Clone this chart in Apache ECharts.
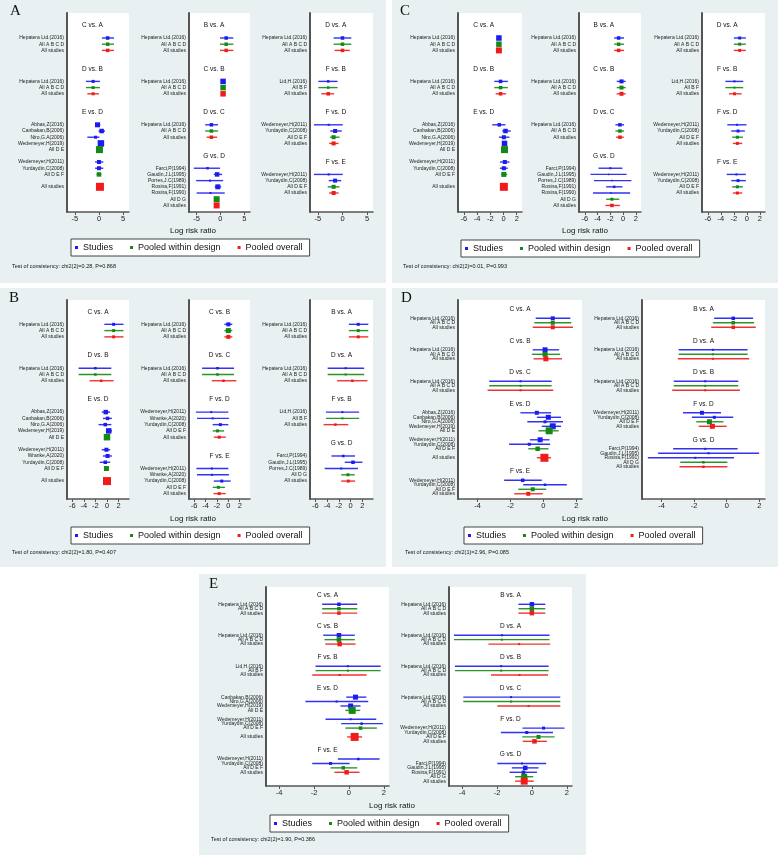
<!DOCTYPE html>
<html>
<head>
<meta charset="utf-8">
<script src="https://cdn.jsdelivr.net/npm/echarts@6/dist/echarts.min.js"></script>
<style>html,body{margin:0;padding:0;background:#fff}#main{width:778px;height:855px}</style>
</head>
<body>
<div id="main"></div>
<script>
// row = [kind, label, estimate, lower, upper, weight]; kind T = comparison title, S = study,
// D = pooled within design, O = pooled overall; null = empty row
var A1 = [
  ['T','C vs. A'], null,
  ['S','Hepatera Ltd.(2016)',1.8,0.6,3.1,3.5],
  ['D','All A B C D',1.8,0.6,3.1,3.5],
  ['O','All studies',1.8,0.6,3.1,3.5],
  null, null,
  ['T','D vs. B'], null,
  ['S','Hepatera Ltd.(2016)',-1.2,-2.7,0.2,3],
  ['D','All A B C D',-1.2,-2.7,0.2,3],
  ['O','All studies',-1.2,-2.4,0.0,3],
  null, null,
  ['T','E vs. D'], null,
  ['S','Abbas,Z(2016)',-0.3,-0.8,0.3,5],
  ['S','Canbakan,B(2006)',0.55,-0.1,1.25,4.5],
  ['S','Niro,G.A(2006)',-0.7,-2.4,0.1,3],
  ['S','Wedemeyer,H(2019)',0.4,0.0,0.8,6.5],
  ['D','All D E',0.1,-0.2,0.4,7],
  null,
  ['S','Wedemeyer,H(2011)',0,-0.8,0.9,4],
  ['S','Yurdaydin,C(2008)',0,-0.8,0.9,4],
  ['D','All D E F',0,-0.5,0.5,4.5],
  null,
  ['O','All studies',0.2,-0.1,0.5,8]
];
var A2 = [
  ['T','B vs. A'], null,
  ['S','Hepatera Ltd.(2016)',1.2,-0.1,2.7,3.5],
  ['D','All A B C D',1.2,-0.1,2.7,3.5],
  ['O','All studies',1.2,-0.1,2.7,3.5],
  null, null,
  ['T','C vs. B'], null,
  ['S','Hepatera Ltd.(2016)',0.55,0.3,0.8,5.5],
  ['D','All A B C D',0.55,0.3,0.8,5.5],
  ['O','All studies',0.55,0.3,0.8,5.5],
  null, null,
  ['T','D vs. C'], null,
  ['S','Hepatera Ltd.(2016)',-1.9,-3.2,-0.5,3.5],
  ['D','All A B C D',-1.9,-3.2,-0.5,3.5],
  ['O','All studies',-1.9,-2.9,-0.7,3.5],
  null, null,
  ['T','G vs. D'], null,
  ['S','Farci,P(1994)',-2.7,-5.6,-0.1,2.5],
  ['S','Gaudin,J.L(1995)',-0.7,-1.4,0.35,4.5],
  ['S','Porres,J.C(1989)',-2.2,-5.1,0.55,2],
  ['S','Rosina,F(1991)',-0.55,-1.2,0.15,5],
  ['S','Rosina,F(1990)',-2.1,-5.0,0.9,2],
  ['D','All D G',-0.8,-1.2,-0.4,6],
  ['O','All studies',-0.8,-1.2,-0.4,6]
];
var A3 = [
  ['T','D vs. A'], null,
  ['S','Hepatera Ltd.(2016)',0,-1.8,1.8,3.5],
  ['D','All A B C D',0,-1.8,1.8,3.5],
  ['O','All studies',0,-1.6,1.5,3.5],
  null, null,
  ['T','F vs. B'], null,
  ['S','Lid,H.(2016)',-2.9,-4.9,-1.0,2.5],
  ['D','All B F',-2.9,-4.9,-1.0,2.5],
  ['O','All studies',-2.9,-4.3,-1.7,3.5],
  null, null,
  ['T','F vs. D'], null,
  ['S','Wedemeyer,H(2011)',-2.8,-5.8,0.05,2],
  ['S','Yurdaydin,C(2008)',-1.5,-2.5,-0.15,4],
  ['D','All D E F',-1.8,-2.5,-0.6,4],
  ['O','All studies',-1.8,-2.7,-0.8,4],
  null, null,
  ['T','F vs. E'], null,
  ['S','Wedemeyer,H(2011)',-2.8,-5.8,0.05,2],
  ['S','Yurdaydin,C(2008)',-1.5,-2.8,-0.25,4],
  ['D','All D E F',-1.8,-3.0,-0.6,4],
  ['O','All studies',-1.8,-2.7,-0.8,4]
];

var B1 = [
  ['T','C vs. A'], null,
  ['S','Hepatera Ltd.(2016)',1.15,-0.45,2.85,3],
  ['D','All A B C D',1.15,-0.45,2.85,3],
  ['O','All studies',1.15,-0.45,2.85,3],
  null, null,
  ['T','D vs. B'], null,
  ['S','Hepatera Ltd.(2016)',-2.0,-4.9,0.75,2.5],
  ['D','All A B C D',-2.0,-4.9,0.75,2.5],
  ['O','All studies',-1.0,-3.0,1.15,2.5],
  null, null,
  ['T','E vs. D'], null,
  ['S','Abbas,Z(2016)',-0.2,-0.9,0.55,4.5],
  ['S','Canbakan,B(2006)',0.1,-0.7,0.85,3.5],
  ['S','Niro,G.A(2006)',-0.3,-1.45,0.75,3.5],
  ['S','Wedemeyer,H(2019)',0.3,-0.2,0.85,5.5],
  ['D','All D E',0,-0.3,0.3,6.5],
  null,
  ['S','Wedemeyer,H(2011)',-0.1,-0.9,0.55,4],
  ['S','Wranke,A(2020)',0.1,-0.7,0.85,4],
  ['S','Yurdaydin,C(2008)',-0.3,-1.25,0.55,3.5],
  ['D','All D E F',-0.1,-0.5,0.3,5],
  null,
  ['O','All studies',0,-0.3,0.3,8]
];
var B2 = [
  ['T','C vs. B'], null,
  ['S','Hepatera Ltd.(2016)',0,-0.7,0.7,4],
  ['D','All A B C D',0,-0.7,0.7,5],
  ['O','All studies',0,-0.7,0.7,4],
  null, null,
  ['T','D vs. C'], null,
  ['S','Hepatera Ltd.(2016)',-1.9,-4.6,1.0,2.5],
  ['D','All A B C D',-1.9,-4.6,1.0,2.5],
  ['O','All studies',-0.85,-2.9,1.4,2.5],
  null, null,
  ['T','F vs. D'], null,
  ['S','Wedemeyer,H(2011)',-3.0,-5.7,0,2],
  ['S','Wranke,A(2020)',-2.75,-5.5,0.1,2],
  ['S','Yurdaydin,C(2008)',-1.4,-2.75,0,3],
  ['D','All D E F',-1.9,-2.75,-0.75,3],
  ['O','All studies',-1.6,-2.55,-0.45,3],
  null, null,
  ['T','F vs. E'], null,
  ['S','Wedemeyer,H(2011)',-2.9,-5.6,0,2],
  ['S','Wranke,A(2020)',-2.85,-5.5,0.1,2],
  ['S','Yurdaydin,C(2008)',-1.15,-2.55,0.4,3],
  ['D','All D E F',-1.75,-2.75,-0.6,3],
  ['O','All studies',-1.6,-2.6,-0.45,3]
];
var B3 = [
  ['T','B vs. A'], null,
  ['S','Hepatera Ltd.(2016)',1.3,-0.3,3.0,3],
  ['D','All A B C D',1.3,-0.3,3.0,3],
  ['O','All studies',1.3,-0.3,3.0,3],
  null, null,
  ['T','D vs. A'], null,
  ['S','Hepatera Ltd.(2016)',-0.85,-3.9,2.3,2],
  ['D','All A B C D',-0.85,-3.9,2.3,2],
  ['O','All studies',0.3,-2.3,2.85,2.5],
  null, null,
  ['T','F vs. B'], null,
  ['S','Lid,H.(2016)',-1.4,-4.2,1.45,2],
  ['D','All B F',-1.4,-4.2,1.45,2],
  ['O','All studies',-2.6,-4.6,-0.4,2.5],
  null, null,
  ['T','G vs. D'], null,
  ['S','Farci,P(1994)',-1.25,-3.25,0.75,2.5],
  ['S','Gaudin,J.L(1995)',0.4,-1.0,2.0,3.5],
  ['S','Porres,J.C(1989)',-1.6,-4.4,1.25,2],
  ['D','All D G',-0.45,-1.6,0.7,3],
  ['O','All studies',-0.4,-1.6,0.75,3]
];

var C1 = [
  ['T','C vs. A'], null,
  ['S','Hepatera Ltd.(2016)',-0.7,-0.9,-0.5,5.5],
  ['D','All A B C D',-0.7,-0.9,-0.5,5.5],
  ['O','All studies',-0.7,-0.9,-0.5,6],
  null, null,
  ['T','D vs. B'], null,
  ['S','Hepatera Ltd.(2016)',-0.45,-1.4,0.65,3.5],
  ['D','All A B C D',-0.45,-1.4,0.65,3.5],
  ['O','All studies',-0.45,-1.2,0.4,3.5],
  null, null,
  ['T','E vs. D'], null,
  ['S','Abbas,Z(2016)',-0.65,-1.7,0.3,3.5],
  ['S','Canbakan,B(2006)',0.3,-0.2,1.1,4.5],
  ['S','Niro,G.A(2006)',0.05,-0.7,0.9,4],
  ['S','Wedemeyer,H(2019)',0.15,-0.15,0.45,5.5],
  ['D','All D E',0.15,-0.1,0.4,7],
  null,
  ['S','Wedemeyer,H(2011)',0.2,-0.55,0.9,4],
  ['S','Yurdaydin,C(2008)',0.05,-0.55,0.65,4],
  ['D','All D E F',0.05,-0.35,0.55,5],
  null,
  ['O','All studies',0.05,-0.2,0.3,8]
];
var C2 = [
  ['T','B vs. A'], null,
  ['S','Hepatera Ltd.(2016)',-0.7,-1.4,0.15,3.5],
  ['D','All A B C D',-0.7,-1.4,0.15,3.5],
  ['O','All studies',-0.7,-1.4,0.15,3.5],
  null, null,
  ['T','C vs. B'], null,
  ['S','Hepatera Ltd.(2016)',-0.25,-1.0,0.4,4],
  ['D','All A B C D',-0.25,-1.0,0.4,4],
  ['O','All studies',-0.25,-1.0,0.4,4],
  null, null,
  ['T','D vs. C'], null,
  ['S','Hepatera Ltd.(2016)',-0.5,-1.2,0.15,3.5],
  ['D','All A B C D',-0.5,-1.2,0.15,3.5],
  ['O','All studies',-0.5,-1.1,0.1,3.5],
  null, null,
  ['T','G vs. D'], null,
  ['S','Farci,P(1994)',-2.0,-3.85,-0.1,2],
  ['S','Gaudin,J.L(1995)',-2.25,-5.1,0.55,1.5],
  ['S','Porres,J.C(1989)',-1.75,-4.55,1.3,1.5],
  ['S','Rosina,F(1991)',-1.4,-2.65,-0.1,2.5],
  ['S','Rosina,F(1990)',-1.9,-4.7,1.1,1.5],
  ['D','All D G',-1.75,-2.65,-0.6,3],
  ['O','All studies',-1.75,-2.75,-0.5,3.5]
];
var C3 = [
  ['T','D vs. A'], null,
  ['S','Hepatera Ltd.(2016)',-1.1,-2.0,-0.15,3],
  ['D','All A B C D',-1.1,-2.0,-0.15,3],
  ['O','All studies',-1.1,-2.0,-0.15,3],
  null, null,
  ['T','F vs. B'], null,
  ['S','Lid,H.(2016)',-1.9,-3.3,-0.55,2],
  ['D','All B F',-1.9,-3.3,-0.55,2],
  ['O','All studies',-1.9,-2.75,-0.8,3],
  null, null,
  ['T','F vs. D'], null,
  ['S','Wedemeyer,H(2011)',-1.5,-3.0,-0.05,2],
  ['S','Yurdaydin,C(2008)',-1.35,-2.4,-0.3,3],
  ['D','All D E F',-1.45,-2.25,-0.6,3],
  ['O','All studies',-1.45,-2.15,-0.7,3],
  null, null,
  ['T','F vs. E'], null,
  ['S','Wedemeyer,H(2011)',-1.6,-3.1,-0.15,2],
  ['S','Yurdaydin,C(2008)',-1.35,-2.4,-0.15,3],
  ['D','All D E F',-1.45,-2.25,-0.6,3],
  ['O','All studies',-1.45,-2.15,-0.7,3]
];

var D1 = [
  ['T','C vs. A'], null,
  ['S','Hepatera Ltd.(2016)',0.57,-0.47,1.64,4],
  ['D','All A B C D',0.57,-0.55,1.7,4],
  ['O','All studies',0.57,-0.65,1.8,4],
  null, null,
  ['T','C vs. B'], null,
  ['S','Hepatera Ltd.(2016)',0.1,-0.65,0.96,5],
  ['D','All A B C D',0.1,-0.7,1.02,5],
  ['O','All studies',0.15,-0.6,1.13,5],
  null, null,
  ['T','D vs. C'], null,
  ['S','Hepatera Ltd.(2016)',-1.39,-3.3,0.5,2],
  ['D','All A B C D',-1.39,-3.3,0.5,2],
  ['O','All studies',-1.39,-3.4,0.6,2],
  null, null,
  ['T','E vs. D'], null,
  ['S','Abbas,Z(2016)',-0.4,-1.4,0.47,4],
  ['S','Canbakan,B(2006)',0.3,-0.4,1.07,5],
  ['S','Niro,G.A(2006)',0.1,-0.98,1.19,3],
  ['S','Wedemeyer,H(2019)',0.57,-0.1,1.07,6],
  ['D','All D E',0.35,-0.3,0.93,7],
  null,
  ['S','Wedemeyer,H(2011)',-0.2,-0.82,0.37,5],
  ['S','Yurdaydin,C(2008)',-0.86,-2.09,0.41,3],
  ['D','All D E F',-0.35,-0.92,0.31,4.5],
  null,
  ['O','All studies',0.06,-0.4,0.47,8],
  null, null,
  ['T','F vs. E'], null,
  ['S','Wedemeyer,H(2011)',-1.26,-2.39,-0.1,3.5],
  ['S','Yurdaydin,C(2008)',0.1,-1.23,1.43,2.5],
  ['D','All D E F',-0.65,-1.53,0.17,4],
  ['O','All studies',-0.92,-1.78,-0.04,4]
];
var D2 = [
  ['T','B vs. A'], null,
  ['S','Hepatera Ltd.(2016)',0.4,-0.77,1.62,3.5],
  ['D','All A B C D',0.4,-0.85,1.68,3.5],
  ['O','All studies',0.4,-0.95,1.78,3.5],
  null, null,
  ['T','D vs. A'], null,
  ['S','Hepatera Ltd.(2016)',-0.85,-2.95,1.28,2],
  ['D','All A B C D',-0.85,-2.95,1.28,2],
  ['O','All studies',-0.85,-3.0,1.38,2],
  null, null,
  ['T','D vs. B'], null,
  ['S','Hepatera Ltd.(2016)',-1.32,-3.25,0.71,2],
  ['D','All A B C D',-1.32,-3.25,0.71,2],
  ['O','All studies',-1.32,-3.35,0.81,2],
  null, null,
  ['T','F vs. D'], null,
  ['S','Wedemeyer,H(2011)',-1.52,-2.68,-0.35,4],
  ['S','Yurdaydin,C(2008)',-0.76,-2.14,0.4,3],
  ['D','All D E F',-1.06,-1.87,-0.2,5],
  ['O','All studies',-0.88,-1.72,0,5],
  null, null,
  ['T','G vs. D'], null,
  ['S','Farci,P(1994)',-1.32,-3.29,0.67,2],
  ['S','Gaudin,J.L(1995)',-1.12,-4.21,1.99,2],
  ['S','Rosina,F(1991)',-1.93,-4.84,0.45,2],
  ['D','All D G',-1.43,-2.85,0.04,2.5],
  ['O','All studies',-1.43,-2.9,0.04,2.5]
];

var E1 = [
  ['T','C vs. A'], null,
  ['S','Hepatera Ltd.(2016)',-0.57,-1.53,0.48,3.5],
  ['D','All A B C D',-0.57,-1.53,0.48,3.5],
  ['O','All studies',-0.57,-1.53,0.48,3.5],
  null, null,
  ['T','C vs. B'], null,
  ['S','Hepatera Ltd.(2016)',-0.57,-1.47,0.34,4.5],
  ['D','All A B C D',-0.57,-1.4,0.34,4.5],
  ['O','All studies',-0.53,-1.35,0.38,4.5],
  null, null,
  ['T','F vs. B'], null,
  ['S','Lid,H.(2016)',-0.06,-1.91,1.82,2],
  ['D','All B F',-0.06,-1.91,1.82,2],
  ['O','All studies',-0.53,-2.1,1.02,2],
  null, null,
  ['T','E vs. D'], null,
  ['S','Canbakan,B(2006)',0.38,-0.15,1.0,5],
  ['S','Niro,G.A(2006)',-0.7,-2.49,1.11,2],
  ['S','Wedemeyer,H(2019)',0.1,-0.48,0.67,5],
  ['D','All D E',0.19,-0.2,0.65,7],
  null,
  ['S','Wedemeyer,H(2011)',0.1,-1.34,1.57,2],
  ['S','Yurdaydin,C(2008)',0.73,-0.44,1.95,2.5],
  ['D','All D E F',0.67,-0.2,1.6,3.5],
  null,
  ['O','All studies',0.33,-0.1,0.76,8],
  null, null,
  ['T','F vs. E'], null,
  ['S','Wedemeyer,H(2011)',0.54,-0.63,1.76,2.5],
  ['S','Yurdaydin,C(2008)',-1.05,-2.1,0.04,3],
  ['D','All D E F',-0.32,-1.05,0.48,3.5],
  ['O','All studies',-0.13,-0.83,0.61,4.5]
];
var E2 = [
  ['T','B vs. A'], null,
  ['S','Hepatera Ltd.(2016)',0,-0.77,0.77,4.5],
  ['D','All A B C D',0,-0.77,0.77,4.5],
  ['O','All studies',0,-0.77,0.77,4.5],
  null, null,
  ['T','D vs. A'], null,
  ['S','Hepatera Ltd.(2016)',-1.72,-4.47,1.01,2],
  ['D','All A B C D',-1.72,-4.47,1.01,2],
  ['O','All studies',-0.73,-2.49,1.05,2],
  null, null,
  ['T','D vs. B'], null,
  ['S','Hepatera Ltd.(2016)',-1.76,-4.41,0.96,2],
  ['D','All A B C D',-1.76,-4.41,0.96,2],
  ['O','All studies',-0.71,-2.34,0.92,2],
  null, null,
  ['T','D vs. C'], null,
  ['S','Hepatera Ltd.(2016)',-1.19,-3.93,1.63,2],
  ['D','All A B C D',-1.19,-3.93,1.63,2],
  ['O','All studies',-0.19,-1.98,1.63,2],
  null, null,
  ['T','F vs. D'], null,
  ['S','Wedemeyer,H(2011)',0.67,-0.54,1.87,3],
  ['S','Yurdaydin,C(2008)',-0.29,-1.78,1.21,3],
  ['D','All D E F',0.38,-0.55,1.3,4],
  ['O','All studies',0.15,-0.52,0.86,4.5],
  null, null,
  ['T','G vs. D'], null,
  ['S','Farci,P(1994)',-0.57,-1.98,0.82,2],
  ['S','Gaudin,J.L(1995)',-0.38,-1.15,0.38,4.5],
  ['S','Rosina,F(1991)',-0.48,-1.28,0.29,3.5],
  ['D','All D G',-0.44,-0.96,0.08,6],
  ['O','All studies',-0.44,-0.96,0.11,7]
];

var ticksA = [-5, 0, 5];
var ticksB = [-6, -4, -2, 0, 2];
var ticksD = [-4, -2, 0, 2];
var legendNames = ['Studies', 'Pooled within design', 'Pooled overall'];
var kinds = ['S', 'D', 'O'];
var kindColors = ['#1c1cf0', '#148a14', '#f01c1c'];
var tests = [
  'Test of consistency: chi2(2)=0.28, P=0.868',
  'Test of consistency: chi2(2)=1.80, P=0.407',
  'Test of consistency: chi2(2)=0.01, P=0.993',
  'Test of consistency: chi2(1)=2.96, P=0.085',
  'Test of consistency: chi2(2)=1.90, P=0.386'
];

// layout of the five panels
var panels = [
  {letter:'A', cols:[[A1,67,62],[A2,189,61],[A3,310,63]], top:13, h:199, xr:[-6.6,6.2], yr:[-2.03,30.06], ticks:ticksA, tf:0.41,
   box:[0,0,386,283], lp:[10,4], xt:[193,231], lg:[71,239], tp:[12,266]},
  {letter:'B', cols:[[B1,67,62],[B2,189,61],[B3,310,63]], top:300, h:199, xr:[-6.9,3.8], yr:[-1.88,29.86], ticks:ticksB, tf:0.5,
   box:[0,288,386,279], lp:[9,291], xt:[193,519], lg:[71,527], tp:[12,552]},
  {letter:'C', cols:[[C1,458,64],[C2,579,62],[C3,702,63]], top:13, h:199, xr:[-6.9,2.8], yr:[-2.03,30.06], ticks:ticksB, tf:0.4,
   box:[392,0,386,283], lp:[400,4], xt:[585,231], lg:[461,240], tp:[403,266]},
  {letter:'D', cols:[[D1,458,124],[D2,642,123]], top:300, h:199, xr:[-5.2,2.35], yr:[-2.07,42.16], ticks:ticksD, tf:0.5,
   box:[392,288,386,279], lp:[401,291], xt:[585,519], lg:[464,527], tp:[405,552]},
  {letter:'E', cols:[[E1,266,123],[E2,449,123]], top:587, h:199, xr:[-4.75,2.3], yr:[-1.91,43.1], ticks:ticksD, tf:0.5,
   box:[199,574,387,281], lp:[209,577], xt:[392,806], lg:[270,815], tp:[211,839]}
];

function renderMark(params, api) {
  var y = api.value(0);
  var c = api.coord([api.value(1), y]);
  var a = api.coord([api.value(2), y]);
  var b = api.coord([api.value(3), y]);
  var s = api.value(4);
  var col = api.visual('color');
  return {
    type: 'group',
    children: [
      {type: 'line', shape: {x1: a[0], y1: a[1], x2: b[0], y2: b[1]}, style: {stroke: col, lineWidth: 1.4, opacity: 0.9}},
      {type: 'rect', shape: {x: c[0] - s / 2, y: c[1] - s / 2, width: s, height: s}, style: {fill: col}}
    ]
  };
}

var grids = [], xAxes = [], yAxes = [], series = [], legends = [], graphics = [];

panels.forEach(function (p, pi) {
  graphics.push({type: 'rect', z: -1, silent: true, shape: {x: p.box[0], y: p.box[1], width: p.box[2], height: p.box[3]}, style: {fill: '#e9f0f2'}});
  graphics.push({type: 'text', z: 10, x: p.lp[0], y: p.lp[1], style: {text: p.letter, fontSize: 15, fontFamily: 'Liberation Serif', fill: '#111', verticalAlign: 'top'}});
  graphics.push({type: 'text', z: 10, x: p.xt[0], y: p.xt[1], style: {text: 'Log risk ratio', fontSize: 8, fill: '#111', align: 'center', verticalAlign: 'middle'}});
  graphics.push({type: 'text', z: 10, x: p.tp[0], y: p.tp[1], style: {text: tests[pi], fontSize: 5.5, fill: '#111', align: 'left', verticalAlign: 'middle'}});
  legends.push({
    left: p.lg[0], top: p.lg[1], data: legendNames, icon: 'rect', itemWidth: 3, itemHeight: 3, itemGap: 17,
    padding: [4, 7, 4, 4], backgroundColor: '#fff', borderColor: '#444', borderWidth: 1, selectedMode: false,
    textStyle: {fontSize: 9, color: '#111', fontFamily: 'Liberation Sans'}
  });

  p.cols.forEach(function (c) {
    var rows = c[0];
    var gi = grids.length;
    grids.push({left: c[1], top: p.top, width: c[2], height: p.h, show: true, backgroundColor: '#fff', borderWidth: 0});
    xAxes.push({
      gridIndex: gi, type: 'value', min: p.xr[0], max: p.xr[1],
      axisLine: {show: true, onZero: false, lineStyle: {color: '#555', width: 1.5}},
      axisTick: {show: true, customValues: p.ticks, length: 3, lineStyle: {color: '#555'}},
      axisLabel: {customValues: p.ticks, fontSize: 7.5, color: '#222', margin: 3},
      splitLine: {show: false}
    });
    yAxes.push({
      gridIndex: gi, type: 'value', inverse: true, min: p.yr[0], max: p.yr[1],
      axisLine: {show: true, onZero: false, lineStyle: {color: '#555', width: 2}},
      axisTick: {show: false}, axisLabel: {show: false}, splitLine: {show: false}
    });
    kinds.forEach(function (k, ki) {
      var data = [];
      rows.forEach(function (r, i) {
        if (r && r[0] === k) data.push([i, r[2], r[3], r[4], r[5]]);
      });
      series.push({
        type: 'custom', name: legendNames[ki], xAxisIndex: gi, yAxisIndex: gi, silent: true,
        itemStyle: {color: kindColors[ki]}, encode: {x: [1, 2, 3], y: 0},
        renderItem: renderMark, data: data
      });
    });
    var idx = [];
    rows.forEach(function (r, i) { if (r) idx.push(i); });
    series.push({
      type: 'custom', xAxisIndex: gi, yAxisIndex: gi, silent: true, encode: {x: 0, y: 1},
      data: idx.map(function (i) { return [0, i]; }),
      renderItem: function (params, api) {
        var i = idx[params.dataIndex];
        var r = rows[i];
        var y = api.coord([0, i])[1];
        var cs = params.coordSys;
        if (r[0] === 'T') {
          return {type: 'text', x: cs.x + p.tf * cs.width, y: y,
            style: {text: r[1], fontSize: 6.5, fill: '#111', align: 'center', verticalAlign: 'middle'}};
        }
        return {type: 'text', x: cs.x - 3, y: y,
          style: {text: r[1], fontSize: 5, fill: '#1a1a1a', align: 'right', verticalAlign: 'middle'}};
      }
    });
  });
});

var myChart = echarts.init(document.getElementById('main'));
myChart.setOption({
  backgroundColor: '#fff',
  animation: false,
  textStyle: {fontFamily: 'Liberation Sans, Arial, sans-serif'},
  grid: grids,
  xAxis: xAxes,
  yAxis: yAxes,
  legend: legends,
  graphic: graphics,
  series: series
});
</script>
</body>
</html>
